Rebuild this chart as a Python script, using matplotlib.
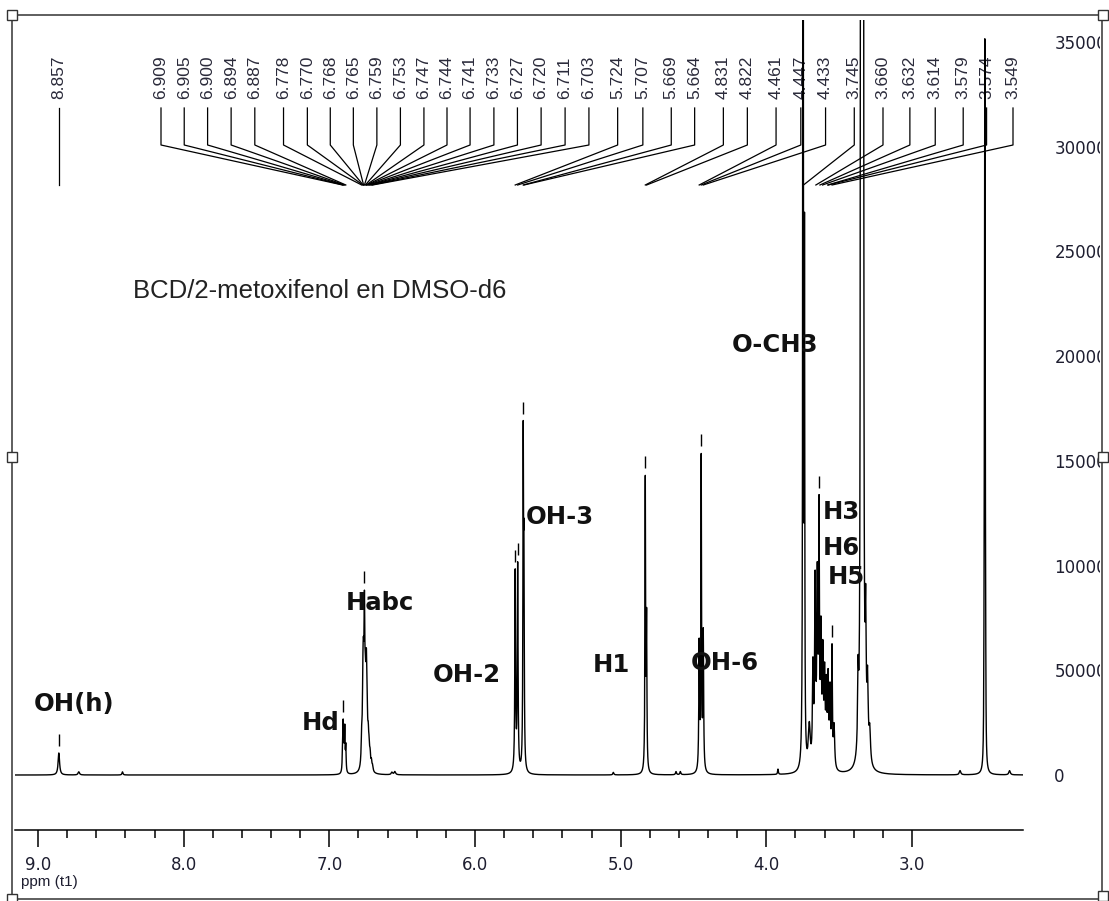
import numpy as np
import matplotlib.pyplot as plt
from matplotlib.patches import Rectangle
from matplotlib.transforms import Bbox, TransformedBbox

# spectrum lines (ppm, height, half width in ppm)
line_ppm = [8.857, 8.72, 8.42,
            6.909, 6.905, 6.900, 6.894, 6.887,
            6.778, 6.770, 6.768, 6.765, 6.759, 6.753, 6.747, 6.744, 6.741, 6.733, 6.727, 6.720, 6.711, 6.703,
            6.57, 6.55,
            5.724, 5.707, 5.669, 5.664,
            5.05,
            4.831, 4.822,
            4.62, 4.59,
            4.461, 4.447, 4.433,
            3.92,
            3.748, 3.738,
            3.705, 3.680, 3.665, 3.650, 3.638, 3.625, 3.612, 3.600, 3.588, 3.576, 3.563, 3.549, 3.535,
            3.370, 3.352, 3.346, 3.340, 3.334, 3.318, 3.305, 3.290,
            2.67,
            2.506, 2.503, 2.500, 2.497, 2.494,
            2.33]
line_height = [10500, 1500, 1500,
               12000, 20000, 10000, 20000, 12000,
               12000, 20000, 18000, 28000, 60000, 28000, 26000, 20000, 16000, 12000, 8000, 6000, 4000, 2500,
               1200, 1500,
               95000, 98000, 150000, 90000,
               1200,
               138000, 70000,
               1500, 1500,
               60000, 148000, 65000,
               2500,
               1200000, 240000,
               20000, 45000, 85000, 85000, 115000, 60000, 50000, 40000, 35000, 40000, 35000, 55000, 20000,
               35000, 800000, 800000, 800000, 800000, 60000, 35000, 15000,
               2000,
               20000, 110000, 280000, 110000, 20000,
               2000]
line_hw = [0.006, 0.006, 0.004,
           0.0025, 0.0025, 0.0025, 0.0025, 0.0025,
           0.004, 0.004, 0.004, 0.004, 0.003, 0.004, 0.004, 0.004, 0.004, 0.004, 0.004, 0.004, 0.004, 0.004,
           0.006, 0.006,
           0.003, 0.003, 0.0025, 0.0025,
           0.004,
           0.0025, 0.0025,
           0.004, 0.004,
           0.003, 0.0025, 0.003,
           0.003,
           0.0015, 0.002,
           0.008, 0.004, 0.004, 0.004, 0.003, 0.004, 0.004, 0.004, 0.004, 0.004, 0.004, 0.003, 0.005,
           0.004, 0.002, 0.002, 0.002, 0.002, 0.004, 0.005, 0.006,
           0.006,
           0.002, 0.002, 0.0015, 0.002, 0.002,
           0.006]

# picked peaks listed along the top
pick_ppm = [8.857,
            6.909, 6.905, 6.900, 6.894, 6.887,
            6.778, 6.770, 6.768, 6.765, 6.759, 6.753, 6.747, 6.744, 6.741, 6.733, 6.727, 6.720, 6.711, 6.703,
            5.724, 5.707, 5.669, 5.664,
            4.831, 4.822,
            4.461, 4.447, 4.433,
            3.745,
            3.660, 3.632, 3.614, 3.579, 3.574, 3.549]

# short marks above some peak tops
mark_ppm = [8.857, 6.905, 6.759, 5.724, 5.707, 5.669, 4.831, 4.447, 3.638, 3.549]

# assignments
assign_text = ['OH(h)', 'Hd', 'Habc', 'OH-2', 'OH-3', 'H1', 'OH-6', 'O-CH3', 'H3', 'H6', 'H5']
assign_ppm = [9.027, 7.188, 6.886, 6.288, 5.650, 5.190, 4.517, 4.236, 3.611, 3.611, 3.577]
assign_int = [33900, 24800, 82100, 47750, 123200, 52500, 53500, 205300, 125600, 108400, 94500]

x_ticks = [9.0, 8.0, 7.0, 6.0, 5.0, 4.0, 3.0]
y_ticks = [0, 50000, 100000, 150000, 200000, 250000, 300000, 350000]

W, H = 1109, 901
X_LEFT, X_RIGHT = 9.158, 2.238
Y_MIN, Y_MAX = -26260, 360500

fig = plt.figure(figsize=(W / 100, H / 100), dpi=100)
ax = fig.add_axes([15 / W, (H - 830) / H, 1008 / W, 810 / H])

ppm = np.linspace(X_RIGHT, X_LEFT, 60000)
spec = np.zeros_like(ppm)
for p, h, w in zip(line_ppm, line_height, line_hw):
    spec += h / (1 + ((ppm - p) / w) ** 2)

ax.plot(ppm, spec, color='black', lw=1.0, zorder=4)
ax.set_xlim(X_LEFT, X_RIGHT)
ax.set_ylim(Y_MIN, Y_MAX)

# marks above peak tops
px_val = (Y_MAX - Y_MIN) / 810
for m in mark_ppm:
    sel = np.abs(ppm - m) < 0.004
    top = spec[sel].max()
    ax.vlines(m, top + 7 * px_val, top + 19 * px_val, color='black', lw=1.0, zorder=4)

for sp in ['top', 'left', 'right']:
    ax.spines[sp].set_visible(False)
ax.spines['bottom'].set_linewidth(1.1)

ax.set_xticks(x_ticks)
ax.set_xticklabels(['%.1f' % t for t in x_ticks])
ax.set_xticks(np.arange(3.2, 9.0, 0.2), minor=True)
ax.tick_params(axis='x', which='major', direction='out', length=12, width=1.1,
               pad=7, labelsize=12, labelcolor='#1e1e30')
ax.tick_params(axis='x', which='minor', direction='out', length=6, width=1.1)

# right hand scale, cut by the frame as in the original
ax.yaxis.set_ticks_position('right')
ax.set_yticks(y_ticks)
ax.set_yticklabels([str(t) for t in y_ticks])
ax.tick_params(axis='y', length=0, pad=22.5, labelsize=12, labelcolor='#1e1e30')
clip = TransformedBbox(Bbox([[0, 0], [1100 / W, 1]]), fig.transFigure)
for lab in ax.get_yticklabels():
    lab.set_clip_box(clip)
    lab.set_clip_on(True)

ax.text(6 / 1008, -52 / 810, 'ppm (t1)', transform=ax.transAxes, ha='left', va='center',
        fontsize=11, family='Liberation Sans', color='#1e1e30', clip_on=False)

# peak pick labels spread along the top
def px_to_ppm(px):
    return X_LEFT + (px - 15) / 1008 * (X_RIGHT - X_LEFT)

d = np.abs(np.diff(pick_ppm[1:]))
step = 1 + 0.27 * np.minimum(1, d / 0.04)
pos = np.concatenate([[0], np.cumsum(step)])
pos = 161 + pos / pos[-1] * (1013 - 161)
lab_x = [pick_ppm[0]] + [px_to_ppm(p) for p in pos]

def fy(py):
    return (830 - py) / 810

tr = ax.get_xaxis_transform()
for p, lx in zip(pick_ppm, lab_x):
    ax.text(lx, fy(99), '%.3f' % p, rotation=90, ha='center', va='bottom', transform=tr,
            fontsize=12.5, family='Liberation Sans', color='#2a2a3a')
    ax.plot([lx, lx, p], [fy(108), fy(145), fy(185)], color='black', lw=0.9, transform=tr)

for t, x, y in zip(assign_text, assign_ppm, assign_int):
    ax.text(x, y, t, ha='left', va='center', fontsize=17.5, fontweight='bold',
            family='DejaVu Sans', color='#111111', zorder=5)

ax.text(118 / 1008, fy(291), 'BCD/2-metoxifenol en DMSO-d6', transform=ax.transAxes,
        ha='left', va='center', fontsize=18.5, family='Liberation Sans', color='#222222')

# outer frame with small handles
fig.patches.append(Rectangle((12 / W, 2 / H), 1090 / W, 884 / H, transform=fig.transFigure,
                             fill=False, edgecolor='#333333', lw=1.1))
for cx, cy in [(12, 15), (12, 457), (12, 899), (1103, 15), (1103, 457), (1103, 896)]:
    fig.patches.append(Rectangle(((cx - 5) / W, (H - cy - 5) / H), 10 / W, 10 / H,
                                 transform=fig.transFigure, facecolor='white',
                                 edgecolor='#333333', lw=1.0, zorder=3))

fig.savefig('out.png', dpi=100)
